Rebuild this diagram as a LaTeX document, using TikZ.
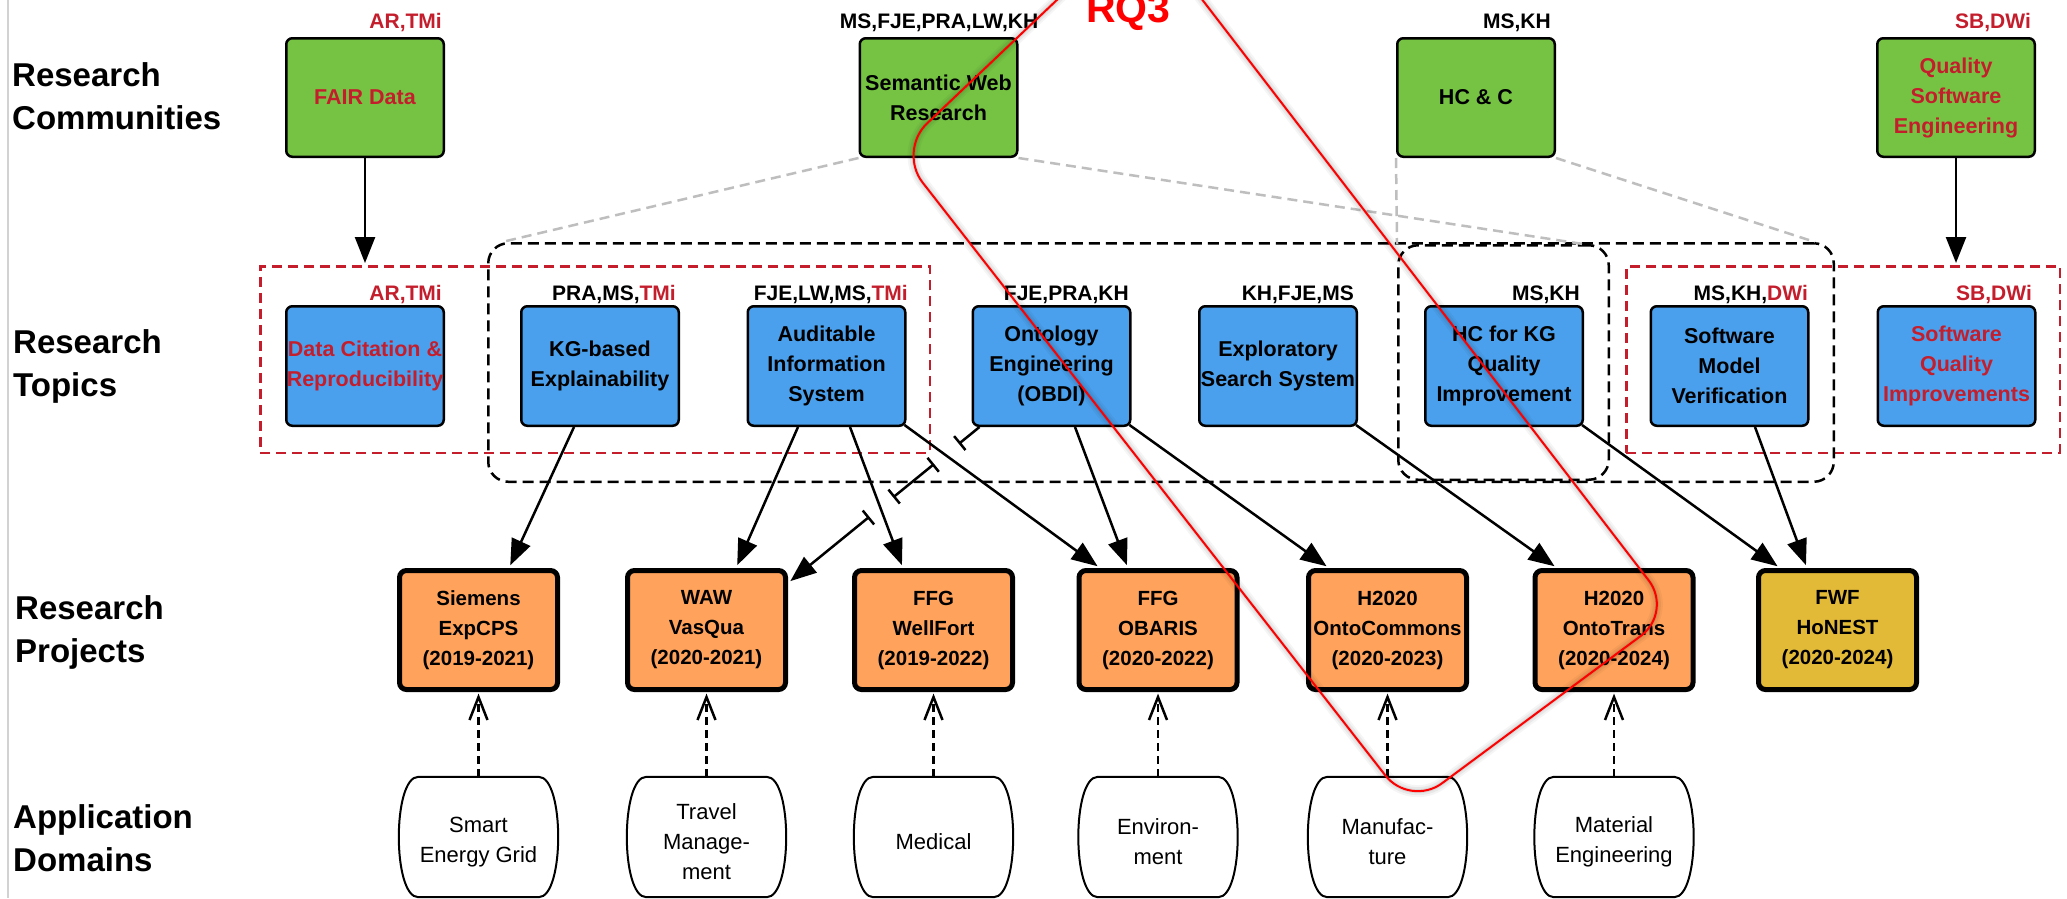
\documentclass[tikz,border=0pt]{standalone}
\usepackage{fontspec}
\setmainfont{Liberation Sans}
\usetikzlibrary{arrows.meta,calc}

\definecolor{cgreen}{RGB}{118,195,68}
\definecolor{cblue}{RGB}{74,160,236}
\definecolor{corange}{RGB}{255,163,92}
\definecolor{cgold}{RGB}{226,186,55}
\definecolor{cred}{RGB}{196,30,45}
\definecolor{cgray}{RGB}{190,190,190}

\newcommand\bxfont{\fontsize{21.5}{30}\selectfont\bfseries}
\newcommand\pjfont{\fontsize{20.5}{30}\selectfont\bfseries}
\newcommand\dmfont{\fontsize{22}{30}\selectfont}
\newcommand\lbfont{\fontsize{21}{25}\selectfont\bfseries}
\newcommand\rowlabelfont{\fontsize{33}{43}\selectfont\bfseries}
\newcommand\rqfont{\fontsize{41}{45}\selectfont\bfseries}

\begin{document}
\begin{tikzpicture}[x=1pt,y=-1pt,
  comm/.style={draw, line width=2.5pt, rounded corners=6pt, fill=cgreen,
    minimum width=157.5pt, minimum height=118.5pt, inner sep=0pt,
    align=center, font=\bxfont},
  topic/.style={comm, fill=cblue, minimum height=119.5pt},
  proj/.style={draw, line width=5pt, rounded corners=7pt, fill=corange,
    minimum width=158pt, minimum height=119pt, inner sep=0pt,
    align=center, font=\pjfont},
  dom/.style={minimum width=160pt, minimum height=130pt, inner sep=0pt,
    align=center, font=\dmfont},
  lab/.style={font=\lbfont, inner sep=0pt, anchor=base east},
  rowlab/.style={font=\rowlabelfont, inner sep=0pt, align=left, anchor=base west},
  redgrp/.style={draw=cred, line width=2.5pt, dash pattern=on 10pt off 6pt, inner sep=0pt},
  blkgrp/.style={draw=black, line width=2.5pt, dash pattern=on 11pt off 6pt,
    rounded corners=20pt, inner sep=0pt},
  grayd/.style={draw=cgray, line width=2.5pt, dash pattern=on 10pt off 6pt},
  arr/.style={line width=2.5pt, -{Triangle[length=26pt,width=20pt]}, shorten >=3pt},
  dline/.style={line width=2.5pt, dash pattern=on 8pt off 5pt},
  vhead/.style={line width=2.5pt, line join=miter},
  inh/.style={line width=2.5pt},
  domline/.style={line width=2pt}
]
\useasboundingbox (0,0) rectangle (2067,898);
\fill[white] (0,0) rectangle (2067,898);
\draw[gray!35, line width=1.5pt] (8,0) -- (8,898);

% row titles (anchored at the baseline of their last line)
\node[rowlab] (rowC) at (12,129) {Research\\Communities};
\node[rowlab] (rowT) at (13,396) {Research\\Topics};
\node[rowlab] (rowP) at (15,662) {Research\\Projects};
\node[rowlab] (rowA) at (13,871) {Application\\Domains};

% groups of research topics
\node[redgrp, minimum width=669.5pt, minimum height=186.5pt] (grpA) at (595,359.5) {};
\node[redgrp, minimum width=433.5pt, minimum height=186.5pt] (grpB) at (1843,359.5) {};
\node[blkgrp, minimum width=1345.5pt, minimum height=238.5pt] (grpO) at (1161,362.5) {};
\node[blkgrp, minimum width=210.5pt, minimum height=234.5pt] (grpI) at (1503.5,362.5) {};

% research communities
\node[comm, text=cred] (fair) at (365,97.5) {FAIR Data};
\node[comm] (sw) at (938.5,97.5) {Semantic Web\\Research};
\node[comm] (hcc) at (1476,97.5) {HC \& C};
\node[comm, text=cred] (qse) at (1956,97.5) {Quality\\Software\\Engineering};

% research topics
\node[topic, text=cred] (dc) at (365,366) {Data Citation \&\\Reproducibility};
\node[topic] (kg) at (600,366) {KG-based\\Explainability};
\node[topic] (au) at (826.5,366) {Auditable\\Information\\System};
\node[topic] (on) at (1051.5,366) {Ontology\\Engineering\\(OBDI)};
\node[topic] (ex) at (1278,366) {Exploratory\\Search System};
\node[topic] (hk) at (1504,366) {HC for KG\\Quality\\Improvement};
\node[topic] (sm) at (1729.5,366) {Software\\Model\\Verification};
\node[topic, text=cred] (sq) at (1956.5,366) {Software\\Quality\\Improvements};

% research projects
\node[proj] (si) at (478.5,630) {Siemens\\ExpCPS\\(2019-2021)};
\node[proj] (waw) at (706.5,630) {WAW\\VasQua\\(2020-2021)};
\node[proj] (wf) at (933.5,630) {FFG\\WellFort\\(2019-2022)};
\node[proj] (ob) at (1158,630) {FFG\\OBARIS\\(2020-2022)};
\node[proj] (oc) at (1387.5,630) {H2020\\OntoCommons\\(2020-2023)};
\node[proj] (ot) at (1614,630) {H2020\\OntoTrans\\(2020-2024)};
\node[proj, fill=cgold] (hn) at (1837.5,630) {FWF\\HoNEST\\(2020-2024)};

% application domains (the outline ends 10pt above the node's south side)
\node[dom] (d1) at (478.5,842) {Smart\\Energy Grid};
\node[dom] (d2) at (706.5,842) {Travel\\Manage-\\ment};
\node[dom] (d3) at (933.5,842) {Medical};
\node[dom] (d4) at (1158,842) {Environ-\\ment};
\node[dom] (d5) at (1387.5,842) {Manufac-\\ture};
\node[dom] (d6) at (1614,842) {Material\\Engineering};
\foreach \d in {d1,d2,d3,d4,d5,d6}
  \draw[domline] ([xshift=20pt]\d.north west) -- ([xshift=-20pt]\d.north east)
    .. controls ([xshift=6pt]\d.north east) and ([xshift=6pt,yshift=10pt]\d.south east)
    .. ([xshift=-20pt,yshift=10pt]\d.south east)
    -- ([xshift=20pt,yshift=10pt]\d.south west)
    .. controls ([xshift=-6pt,yshift=10pt]\d.south west) and ([xshift=-6pt]\d.north west) .. cycle;

% people
\node[lab] (fairL) at ([xshift=-3pt,yshift=9pt]fair.north east) {\textcolor{cred}{AR,TMi}};
\node[lab] (swL) at ([xshift=20pt,yshift=9pt]sw.north east) {MS,FJE,PRA,LW,KH};
\node[lab] (hccL) at ([xshift=-5pt,yshift=9pt]hcc.north east) {MS,KH};
\node[lab] (qseL) at ([xshift=-5pt,yshift=9pt]qse.north east) {\textcolor{cred}{SB,DWi}};
\node[lab] (dcL) at ([xshift=-3pt,yshift=5pt]dc.north east) {\textcolor{cred}{AR,TMi}};
\node[lab] (kgL) at ([xshift=-4pt,yshift=5pt]kg.north east) {PRA,MS,\textcolor{cred}{TMi}};
\node[lab] (auL) at ([xshift=1.5pt,yshift=5pt]au.north east) {FJE,LW,MS,\textcolor{cred}{TMi}};
\node[lab] (onL) at ([xshift=-2.5pt,yshift=5pt]on.north east) {FJE,PRA,KH};
\node[lab] (exL) at ([xshift=-4pt,yshift=5pt]ex.north east) {KH,FJE,MS};
\node[lab] (hkL) at ([xshift=-4pt,yshift=5pt]hk.north east) {MS,KH};
\node[lab] (smL) at ([xshift=-1.5pt,yshift=5pt]sm.north east) {MS,KH,\textcolor{cred}{DWi}};
\node[lab] (sqL) at ([xshift=-4.5pt,yshift=5pt]sq.north east) {\textcolor{cred}{SB,DWi}};

% community scope lines
\draw[grayd] (sw.south west) -- ([xshift=15pt]grpO.north west);
\draw[grayd] (sw.south east) -- ([xshift=-27pt]grpI.north east);
\draw[grayd] (hcc.south west) -- (grpI.north west);
\draw[grayd] (hcc.south east) -- ([xshift=-20pt]grpO.north east);

% communities to topic groups
\draw[arr, shorten >=2pt] (fair.south) -- (fair.south |- grpA.north);
\draw[arr, shorten >=2pt] (qse.south) -- (qse.south |- grpB.north);

% topics to projects
\draw[arr] ([xshift=-26pt]kg.south) -- ([xshift=30.5pt]si.north);
\draw[arr] ([xshift=-28.5pt]au.south) -- ([xshift=29.5pt]waw.north);
\draw[arr] ([xshift=23.5pt]au.south) -- ([xshift=-30.5pt]wf.north);
\draw[arr] ([xshift=-2pt,yshift=2pt]au.south east) -- ([xshift=-58pt]ob.north);
\draw[arr] ([xshift=23.5pt]on.south) -- ([xshift=-30pt]ob.north);
\draw[arr] ([xshift=-2pt,yshift=2pt]on.south east) -- ([xshift=-58.5pt]oc.north);
\draw[arr] ([xshift=-2pt,yshift=2pt]ex.south east) -- ([xshift=-57pt]ot.north);
\draw[arr] ([xshift=-2pt,yshift=2pt]hk.south east) -- ([xshift=-57.5pt]hn.north);
\draw[arr] ([xshift=25.5pt]sm.south) -- ([xshift=-30.5pt]hn.north);

% ontology engineering to WAW, bridging two crossings
\coordinate (ia) at ([xshift=8pt]on.south west);
\coordinate (ib) at ([yshift=47pt]waw.east);
\draw[inh, -{Bar[width=18pt]}] (ia) -- ($(ia)!0.108!(ib)$);
\draw[inh, {Bar[width=18pt]}-{Bar[width=18pt]}] ($(ia)!0.237!(ib)$) -- ($(ia)!0.451!(ib)$);
\draw[inh, {Bar[width=18pt]}-{Triangle[length=26pt,width=20pt]}, shorten >=3pt] ($(ia)!0.575!(ib)$) -- (ib);

% domains to projects: dashed shaft, solid open head
\foreach \d/\p in {d1/si,d2/waw,d3/wf,d4/ob,d5/oc,d6/ot} {
  \draw[dline] (\d.north) -- ([yshift=-5pt]\p.south);
  \draw[vhead] ([xshift=-9pt,yshift=-28pt]\p.south) -- ([yshift=-5pt]\p.south)
    -- ([xshift=9pt,yshift=-28pt]\p.south);
}

% RQ3 outline
\coordinate (rqT) at (1141,-80);
\coordinate (rqR) at (1673,612);
\coordinate (rqB) at (1410,807);
\coordinate (rqL) at (898,151);
\foreach \w/\o in {12/0.04,8/0.05,4/0.07}
  \draw[black, opacity=\o, line width=\w pt, rounded corners=40pt, shift={(4,5)}]
    (rqT) -- (rqR) -- (rqB) -- (rqL) -- cycle;
\draw[red, line width=2pt, rounded corners=40pt] (rqT) -- (rqR) -- (rqB) -- (rqL) -- cycle;
\node[font=\rqfont, text=red, anchor=base, inner sep=0pt] (rqlabel) at (1128.5,22) {RQ3};
\end{tikzpicture}
\end{document}
